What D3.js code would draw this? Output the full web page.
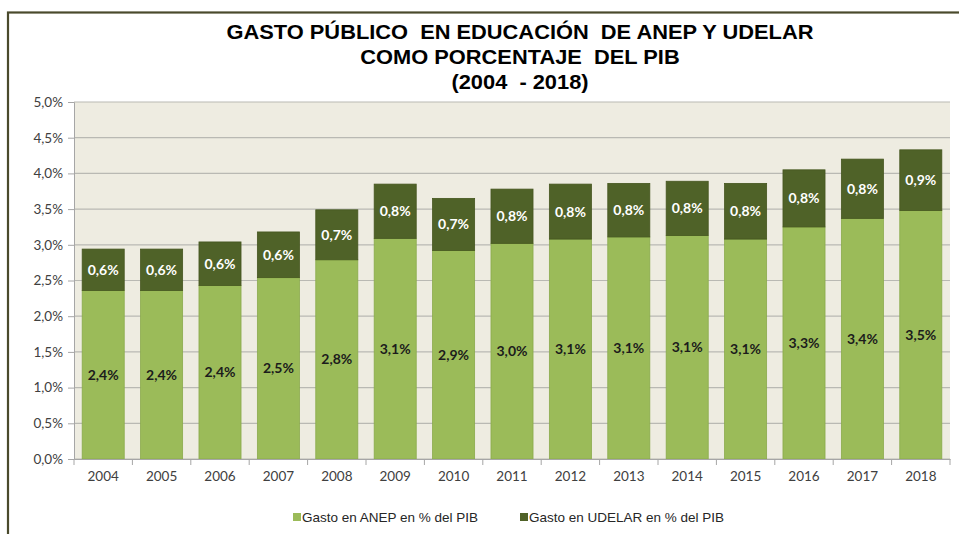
<!DOCTYPE html>
<html>
<head>
<meta charset="utf-8">
<script src="https://cdn.jsdelivr.net/npm/d3@7"></script>
<style>
  body { margin: 0; background: #fff; }
</style>
</head>
<body>
<div class="chart"></div>
<script>
// data (share of GDP, %)
var years = ["2004", "2005", "2006", "2007", "2008", "2009", "2010", "2011",
  "2012", "2013", "2014", "2015", "2016", "2017", "2018"];
var anep = [2.36, 2.36, 2.43, 2.54, 2.79, 3.09, 2.92, 3.02, 3.08, 3.11, 3.13, 3.08, 3.25, 3.37, 3.48];
var udelar = [0.58, 0.58, 0.61, 0.64, 0.70, 0.76, 0.73, 0.76, 0.77, 0.75, 0.76, 0.78, 0.80, 0.83, 0.85];
var anepLabels = ["2,4%", "2,4%", "2,4%", "2,5%", "2,8%", "3,1%", "2,9%", "3,0%",
  "3,1%", "3,1%", "3,1%", "3,1%", "3,3%", "3,4%", "3,5%"];
var udelarLabels = ["0,6%", "0,6%", "0,6%", "0,6%", "0,7%", "0,8%", "0,7%", "0,8%",
  "0,8%", "0,8%", "0,8%", "0,8%", "0,8%", "0,8%", "0,9%"];
var yTicks = [0, 0.5, 1, 1.5, 2, 2.5, 3, 3.5, 4, 4.5, 5];
var seriesNames = ["Gasto en ANEP en % del PIB", "Gasto en UDELAR en % del PIB"];
var titleLines = ["GASTO PÚBLICO  EN EDUCACIÓN  DE ANEP Y UDELAR", "COMO PORCENTAJE  DEL PIB", "(2004  - 2018)"];

var svgWidth = 959;
var svgHeight = 534;

var margin = { top: 102, right: 9, bottom: 75, left: 74 };
var width = 950 - margin.left;
var height = 459 - margin.top;

var colors = ["#9bbb59", "#4f6228"];
var tickFont = "Lato, 'Open Sans', sans-serif";

var svg = d3.select(".chart")
  .append("svg")
  .attr("width", svgWidth)
  .attr("height", svgHeight);

// outer frame (cropped at right and bottom)
svg.append("rect")
  .attr("x", 8)
  .attr("y", 12.5)
  .attr("width", 1000)
  .attr("height", 600)
  .attr("fill", "none")
  .attr("stroke", "#4a4a2c")
  .attr("stroke-width", 2.2);

// title (source looks horizontally stretched)
var title = svg.append("text")
  .attr("text-anchor", "middle")
  .attr("transform", "translate(520,0) scale(1.12,1)")
  .attr("font-family", "'Liberation Sans', Arial, sans-serif")
  .attr("font-weight", "bold")
  .attr("font-size", 19.5)
  .attr("fill", "#000")
  .style("white-space", "pre");
titleLines.forEach(function(t, i) {
  title.append("tspan")
    .attr("x", 0)
    .attr("y", 39 + i * 24.8)
    .text(t);
});

var chartGroup = svg.append("g")
  .attr("transform", `translate(${margin.left}, ${margin.top})`);

var x = d3.scaleBand()
  .domain(years)
  .range([0, width])
  .paddingInner(0.28)
  .paddingOuter(0.14);

var y = d3.scaleLinear()
  .domain([0, 5])
  .range([height, 0]);

// plot background
chartGroup.append("rect")
  .attr("width", width)
  .attr("height", height)
  .attr("fill", "#eeece1");

// gridlines
chartGroup.append("g")
  .selectAll("line")
  .data(yTicks)
  .enter()
  .append("line")
  .attr("x1", 0)
  .attr("x2", width)
  .attr("y1", d => y(d))
  .attr("y2", d => y(d))
  .attr("stroke", "#b9b9b3")
  .attr("stroke-width", 1.2);

// stacked bars
var rows = years.map(function(yr, i) {
  return { year: yr, anep: anep[i], udelar: udelar[i] };
});
var stack = d3.stack().keys(["anep", "udelar"])(rows);

chartGroup.selectAll("g.series")
  .data(stack)
  .enter()
  .append("g")
  .attr("class", "series")
  .attr("fill", (d, i) => colors[i])
  .attr("stroke", (d, i) => i === 0 ? "#8aab4c" : "#45561f")
  .attr("stroke-width", 0.8)
  .selectAll("rect")
  .data(d => d)
  .enter()
  .append("rect")
  .attr("x", d => x(d.data.year))
  .attr("y", d => y(d[1]))
  .attr("width", x.bandwidth())
  .attr("height", d => y(d[0]) - y(d[1]));

// value labels
var labelSets = [anepLabels, udelarLabels];
stack.forEach(function(layer, k) {
  chartGroup.append("g")
    .selectAll("text")
    .data(layer)
    .enter()
    .append("text")
    .attr("x", d => x(d.data.year) + x.bandwidth() / 2)
    .attr("y", d => (y(d[0]) + y(d[1])) / 2)
    .attr("dy", "0.36em")
    .attr("text-anchor", "middle")
    .attr("font-family", tickFont)
    .attr("font-weight", "bold")
    .attr("font-size", 14)
    .attr("fill", k === 0 ? "#1c1c1c" : "#ffffff")
    .text((d, i) => labelSets[k][i]);
});

// y axis
var leftAxis = d3.axisLeft(y)
  .tickValues(yTicks)
  .tickSize(6)
  .tickPadding(5)
  .tickFormat(d => d3.format(".1f")(d).replace(".", ",") + "%");

var yAxis = chartGroup.append("g")
  .call(leftAxis);
yAxis.selectAll("text")
  .attr("font-family", tickFont)
  .attr("font-size", 13.5)
  .attr("fill", "#404040");
yAxis.select(".domain").attr("stroke", "#a6a6a6");
yAxis.selectAll(".tick line").attr("stroke", "#a6a6a6");

// x axis, ticks at category boundaries
var bottomAxis = d3.axisBottom(x).tickSize(0).tickPadding(12);
var xAxis = chartGroup.append("g")
  .attr("transform", `translate(0, ${height})`)
  .call(bottomAxis);
xAxis.selectAll("text")
  .attr("font-family", tickFont)
  .attr("font-size", 13.5)
  .attr("fill", "#404040");
xAxis.select(".domain").attr("stroke", "#a6a6a6");

xAxis.selectAll("line.bound")
  .data(d3.range(years.length + 1))
  .enter()
  .append("line")
  .attr("class", "bound")
  .attr("x1", i => i * width / years.length)
  .attr("x2", i => i * width / years.length)
  .attr("y1", 0)
  .attr("y2", 6)
  .attr("stroke", "#a6a6a6");

// legend
var legendItems = [
  { name: seriesNames[0], color: colors[0], x: 293 },
  { name: seriesNames[1], color: colors[1], x: 520 }
];
var legend = svg.append("g")
  .attr("font-family", "'Liberation Sans', Arial, sans-serif")
  .attr("font-size", 13.5)
  .attr("fill", "#262626");

legend.selectAll("rect")
  .data(legendItems)
  .enter()
  .append("rect")
  .attr("x", d => d.x)
  .attr("y", 513)
  .attr("width", 8)
  .attr("height", 8)
  .attr("fill", d => d.color);

legend.selectAll("text")
  .data(legendItems)
  .enter()
  .append("text")
  .attr("x", d => d.x + 9)
  .attr("y", 522)
  .text(d => d.name);
</script>
</body>
</html>
